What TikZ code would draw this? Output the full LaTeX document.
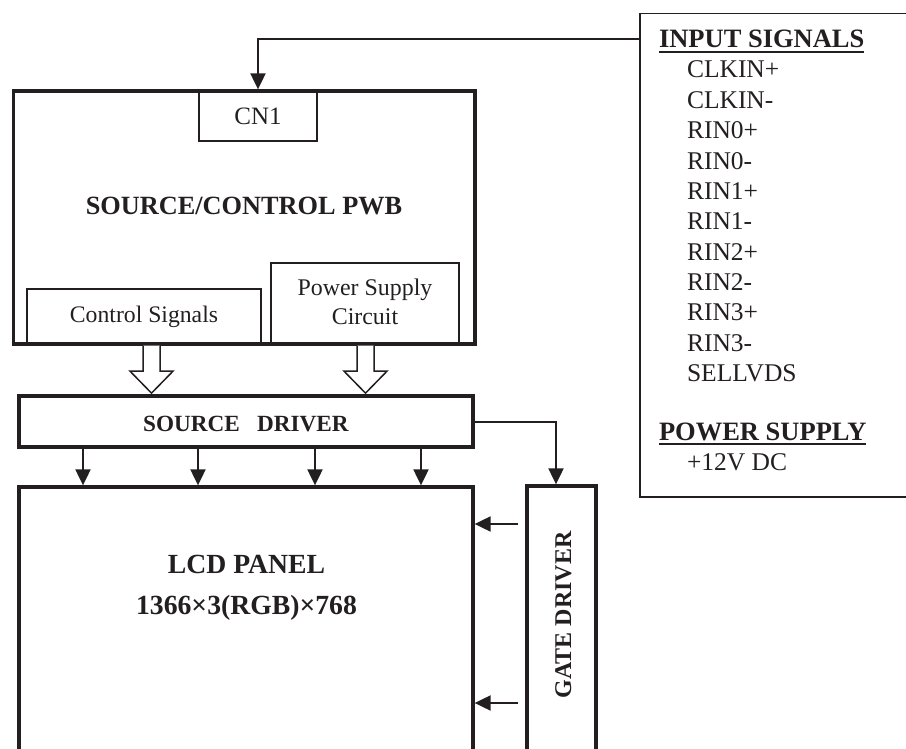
\documentclass[tikz,border=0pt]{standalone}
\usepackage{fontspec}
\setmainfont{Liberation Serif}
\usetikzlibrary{arrows.meta,calc}
\definecolor{ink}{HTML}{231F20}
\begin{document}
\begin{tikzpicture}[x=1pt,y=-1pt,
  thickbox/.style={draw=ink, line width=3.3pt, inner sep=0pt, fill=none},
  thinbox/.style={draw=ink, line width=1.5pt, inner sep=0pt},
  txt/.style={inner sep=0pt, outer sep=0pt, text=ink},
  conn/.style={draw=ink, line width=2pt, -{Triangle[width=15pt,length=16pt]}},
  hollow/.style={draw=ink, line width=1.5pt, fill=white, line join=miter},
  uline/.style={draw=ink, line width=2.5pt},
  rg/.style={txt, anchor=base west, font=\fontsize{25.5pt}{30pt}\selectfont},
  hd/.style={txt, anchor=base west, font=\bfseries\fontsize{26.5pt}{30pt}\selectfont}]
\useasboundingbox (0,0) rectangle (906,749);
\clip (0,0) rectangle (906,749);

% input signal box
\node[thinbox, minimum width=320pt, minimum height=483pt, anchor=north west] (inbox) at (639,13) {};
\node[hd] (h1) at (659,48) {INPUT SIGNALS};
\draw[uline] ($(h1.base west)+(0,4)$) -- ($(h1.base east)+(0,4)$);
\node[rg] (s1) at (687,78) {CLKIN+};
\node[rg] (s2) at (687,108.35) {CLKIN-};
\node[rg] (s3) at (687,138.7) {RIN0+};
\node[rg] (s4) at (687,169.05) {RIN0-};
\node[rg] (s5) at (687,199.4) {RIN1+};
\node[rg] (s6) at (687,229.75) {RIN1-};
\node[rg] (s7) at (687,260.1) {RIN2+};
\node[rg] (s8) at (687,290.45) {RIN2-};
\node[rg] (s9) at (687,320.8) {RIN3+};
\node[rg] (s10) at (687,351.15) {RIN3-};
\node[rg] (s11) at (687,381.5) {SELLVDS};
\node[hd] (h2) at (659,440) {POWER SUPPLY};
\draw[uline] ($(h2.base west)+(0,4)$) -- ($(h2.base east)+(0,4)$);
\node[rg] (p1) at (687,470) {+12V DC};

% source/control PWB
\node[thinbox, minimum width=118pt, minimum height=50pt] (cn1) at (258,116) {};
\node[thinbox, minimum width=234pt, minimum height=55pt] (cs) at (144,316.5) {};
\node[thinbox, minimum width=188pt, minimum height=81pt] (ps) at (365,303.5) {};
\node[thickbox, minimum width=461.5pt, minimum height=253pt] (pwb) at (244.25,217.5) {};
\node[txt, anchor=base, font=\fontsize{25pt}{30pt}\selectfont] (cn1t) at (258,125) {CN1};
\node[txt, anchor=base, font=\bfseries\fontsize{26.3pt}{30pt}\selectfont] (pwbt) at (244,214.5) {SOURCE/CONTROL PWB};
\node[txt, anchor=base, font=\fontsize{23.7pt}{29pt}\selectfont] (cst) at (144,322) {Control Signals};
\node[txt, anchor=base, font=\fontsize{23.9pt}{29pt}\selectfont] (pst1) at (365,295) {Power Supply};
\node[txt, anchor=base, font=\fontsize{23.9pt}{29pt}\selectfont] (pst2) at (365,324) {Circuit};

\draw[conn] ($(inbox.north west)+(0,26)$) -| (cn1.north |- pwb.north);

% hollow arrows
\foreach \x in {151.5,365.5}
  \draw[hollow] (pwb.south -| \x,0) ++(-8.5,0) -- ++(0,25.5) -- ++(-13,0) -- ++(21.5,22) -- ++(21.5,-22) -- ++(-13,0) -- ++(0,-25.5);

% source driver, LCD, gate driver
\node[thickbox, minimum width=454pt, minimum height=51pt] (sd) at (246,421.5) {};
\node[txt, anchor=base, font=\bfseries\fontsize{23.2pt}{28pt}\selectfont] (sdt) at (246,431) {SOURCE\hspace{11.5pt} DRIVER};
\node[thickbox, minimum width=454pt, minimum height=363pt] (lcd) at (246,668.5) {};
\node[txt, anchor=base, font=\bfseries\fontsize{27.7pt}{33pt}\selectfont] (lcdt1) at (246.5,573) {LCD PANEL};
\node[txt, anchor=base, font=\bfseries\fontsize{27.7pt}{33pt}\selectfont] (lcdt2) at (246.5,614) {1366×3(RGB)×768};
\node[thickbox, minimum width=69pt, minimum height=364pt] (gd) at (561.5,668) {};
\node[txt, anchor=base, rotate=90, font=\bfseries\fontsize{24pt}{28pt}\selectfont] (gdt) at (571,615) {GATE DRIVER};

\draw[conn] (sd.east) -| ($(gd.north)+(-5.5,0)$);
\foreach \x in {83,198,315,421}
  \draw[conn] (sd.south -| \x,0) -- (lcd.north -| \x,0);
\foreach \y in {524,703}
  \draw[conn] ($(gd.west |- 0,\y)+(-7,0)$) -- (lcd.east |- 0,\y);
\end{tikzpicture}
\end{document}
